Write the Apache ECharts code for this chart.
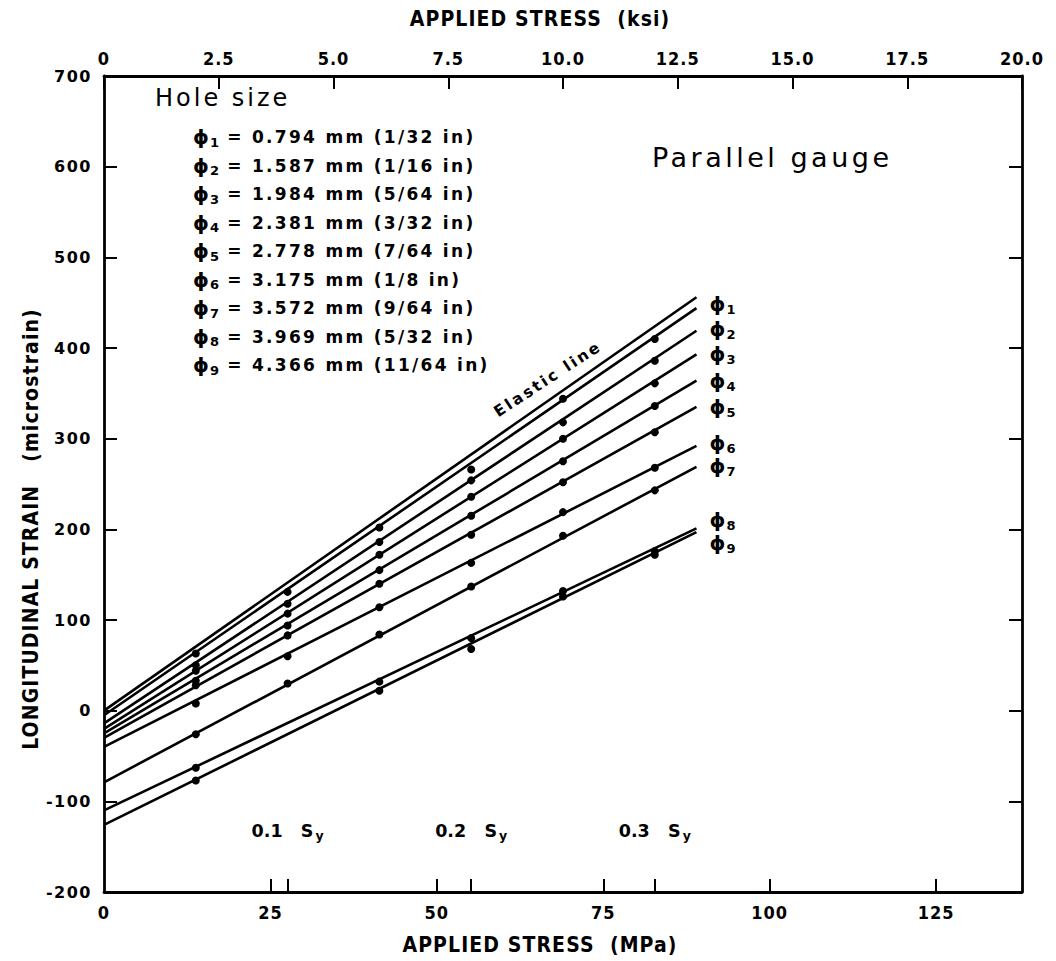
<!DOCTYPE html>
<html>
<head>
<meta charset="utf-8">
<script src="https://cdn.jsdelivr.net/npm/echarts@6/dist/echarts.min.js"></script>
<style>
  html, body { margin: 0; padding: 0; background: #ffffff; }
  #chart { width: 1056px; height: 961px; }
  /* lettering is drawn with wide spacing; keyed on the font size used for each text group */
  #chart text[style*="16px"] { letter-spacing: 1.5px; }
  #chart text[style*="18px"] { letter-spacing: 1px; }
  #chart text[style*="17px"] { letter-spacing: 2.3px; }
  #chart text[style*="24px"] { letter-spacing: 3px; }
  #chart text[style*="27px"] { letter-spacing: 3.5px; }
  #chart text[style*="21px"] { letter-spacing: 1.1px; }
  #chart text[style*="15.5px"] { letter-spacing: 2.5px; }
</style>
</head>
<body>
<div id="chart"></div>
<script>
// Applied stress levels (MPa) at which strains were read: 2, 4, ... 12 ksi
const stressLevels = [13.79, 27.58, 41.37, 55.16, 68.95, 82.74];

// Hole sizes for the nine gauges
const gaugeIds = ['1', '2', '3', '4', '5', '6', '7', '8', '9'];
const holeMm = ['0.794', '1.587', '1.984', '2.381', '2.778', '3.175', '3.572', '3.969', '4.366'];
const holeIn = ['1/32', '1/16', '5/64', '3/32', '7/64', '1/8', '9/64', '5/32', '11/64'];

// Measured longitudinal strain (microstrain) at each stress level (null = no reading)
const strainPhi1 = [63, 131, 202, 266, 344, 410];
const strainPhi2 = [50, 118, 186, 254, 318, 386];
const strainPhi3 = [44, 107, 172, 236, 300, 361];
const strainPhi4 = [33, 94, 155, 215, 275, 336];
const strainPhi5 = [28, 83, 140, 194, 252, 307];
const strainPhi6 = [8, 60, 114, 163, 219, 268];
const strainPhi7 = [-26, 30, 84, 137, 193, 243];
const strainPhi8 = [-63, null, 32, 80, 132, 176];
const strainPhi9 = [-77, null, 22, 68, 126, 172];

// Straight-line fits: strain at 0 MPa and at the end stress
const fitEndStress = 89;
const fitStrainStart = [-5, -14, -20, -25, -30, -40, -79, -110, -126];
const fitStrainEnd = [444, 419, 393, 364, 335, 292, 269, 201, 197];

// Elastic line: strain at 0 MPa and at the end stress
const elasticStrain = [0, 456];

// Yield-fraction markers on the MPa axis (Sy = 275.8 MPa)
const yieldFractions = ['0.1', '0.2', '0.3'];
const yieldMarkStress = [27.58, 55.16, 82.74];

// Axis ranges
const mpaMax = 137.9;
const ksiMax = 20;
const strainMin = -200;
const strainMax = 700;

const measured = [strainPhi1, strainPhi2, strainPhi3, strainPhi4, strainPhi5,
                  strainPhi6, strainPhi7, strainPhi8, strainPhi9];

const INK = '#000000';
const WIDE = '"DejaVu Sans", "Noto Sans", sans-serif';
const NARROW = '"DejaVu Sans Condensed", "Liberation Sans Narrow", "DejaVu Sans", sans-serif';

// vertical nudges for the end-of-line gauge tags
const tagNudge = [-4, -2, 0, 0, 0, -3, -1, -8, 11];

const phiRich = {
  p: { fontFamily: WIDE, fontSize: 20, fontWeight: 'bold', color: INK },
  s: { fontFamily: WIDE, fontSize: 13, fontWeight: 'bold', color: INK, padding: [11, 0, 0, 1] }
};

const series = [];

series.push({
  name: 'Elastic line',
  type: 'line',
  xAxisIndex: 0, yAxisIndex: 0,
  data: [[0, elasticStrain[0]], [fitEndStress, elasticStrain[1]]],
  symbol: 'none',
  lineStyle: { color: INK, width: 2.6 },
  silent: true, animation: false
});

gaugeIds.forEach((id, i) => {
  series.push({
    name: 'fit ϕ' + id,
    type: 'line',
    xAxisIndex: 0, yAxisIndex: 0,
    data: [[0, fitStrainStart[i]], [fitEndStress, fitStrainEnd[i]]],
    symbol: 'none',
    lineStyle: { color: INK, width: 2.6 },
    endLabel: {
      show: true,
      distance: 13,
      offset: [0, tagNudge[i]],
      formatter: '{p|ϕ}{s|' + id + '}',
      rich: phiRich
    },
    silent: true, animation: false
  });
  series.push({
    name: 'ϕ' + id,
    type: 'scatter',
    xAxisIndex: 0, yAxisIndex: 0,
    data: stressLevels
      .map((s, k) => [s, measured[i][k]])
      .filter(p => p[1] !== null),
    symbol: 'circle',
    symbolSize: 8,
    itemStyle: { color: INK, opacity: 1 },
    silent: true, animation: false
  });
});

// Hole-size list
const listChildren = [{
  type: 'text',
  left: 0, top: 0,
  style: { text: 'Hole size', font: '24px ' + WIDE, fill: INK }
}];
gaugeIds.forEach((id, i) => {
  listChildren.push({
    type: 'text',
    left: 38, top: 41 + i * 28.5,
    style: {
      text: '{p|ϕ}{s|' + id + '}{t| = ' + holeMm[i] + ' mm (' + holeIn[i] + ' in)}',
      rich: {
        p: { fontFamily: WIDE, fontSize: 20, fontWeight: 'bold', fill: INK },
        s: { fontFamily: WIDE, fontSize: 13, fontWeight: 'bold', fill: INK, padding: [10, 0, 0, 1] },
        t: { fontFamily: WIDE, fontSize: 17, fontWeight: 'bold', fill: INK }
      }
    }
  });
});

const axisLineStyle = { color: INK, width: 2.8 };
const tickStyle = { color: INK, width: 2 };
const titleStyle = { fontFamily: NARROW, fontSize: 21, fontWeight: 'bold', color: INK };

const option = {
  backgroundColor: '#ffffff',
  animation: false,
  grid: { left: 104, right: 34, top: 76, bottom: 69, containLabel: false },
  xAxis: [
    {
      type: 'value', position: 'bottom',
      min: 0, max: mpaMax, interval: 25,
      name: 'APPLIED STRESS  (MPa)',
      nameLocation: 'middle', nameGap: 42,
      nameTextStyle: Object.assign({ padding: [0, 46, 0, 0] }, titleStyle),
      axisLine: { show: true, onZero: false, lineStyle: axisLineStyle },
      axisTick: { show: true, inside: true, length: 13, lineStyle: tickStyle,
                  customValues: [25, yieldMarkStress[0], 50, yieldMarkStress[1], 75, yieldMarkStress[2], 100, 125] },
      axisLabel: { show: true, margin: 11, fontFamily: NARROW, fontWeight: 'bold', fontSize: 18, color: INK,
                   customValues: [0, 25, 50, 75, 100, 125] },
      splitLine: { show: false }
    },
    {
      type: 'value', position: 'top',
      min: 0, max: ksiMax, interval: 2.5,
      name: 'APPLIED STRESS  (ksi)',
      nameLocation: 'middle', nameGap: 47,
      nameTextStyle: Object.assign({ padding: [0, 46, 0, 0] }, titleStyle),
      axisLine: { show: true, onZero: false, lineStyle: axisLineStyle },
      axisTick: { show: true, inside: true, length: 13, lineStyle: tickStyle },
      axisLabel: { show: true, margin: 9, fontFamily: NARROW, fontWeight: 'bold', fontSize: 18, color: INK,
                   formatter: v => (v === 0 ? '0' : v.toFixed(1)) },
      splitLine: { show: false }
    },
    {
      // yield-fraction labels sitting just above the MPa axis
      type: 'value', position: 'bottom',
      min: 0, max: mpaMax,
      axisLine: { show: false, onZero: false },
      axisTick: { show: false },
      axisLabel: {
        show: true, inside: true, margin: 50,
        customValues: yieldMarkStress,
        formatter: v => '{n|' + yieldFractions[yieldMarkStress.indexOf(v)] + '   S}{s|y}',
        rich: {
          n: { fontFamily: WIDE, fontWeight: 'bold', fontSize: 17.5, color: INK },
          s: { fontFamily: WIDE, fontWeight: 'bold', fontSize: 12.5, color: INK, padding: [9, 0, 0, 2] }
        }
      },
      splitLine: { show: false }
    }
  ],
  yAxis: [
    {
      type: 'value', position: 'left',
      min: strainMin, max: strainMax, interval: 100,
      name: 'LONGITUDINAL STRAIN   (microstrain)',
      nameLocation: 'middle', nameGap: 56,
      nameTextStyle: Object.assign({ padding: [0, 90, 0, 0] }, titleStyle),
      axisLine: { show: true, onZero: false, lineStyle: axisLineStyle },
      axisTick: { show: true, inside: true, length: 13, lineStyle: tickStyle },
      axisLabel: { show: true, margin: 12, fontFamily: WIDE, fontWeight: 'bold', fontSize: 16, color: INK },
      splitLine: { show: false }
    },
    {
      type: 'value', position: 'right',
      min: strainMin, max: strainMax, interval: 100,
      axisLine: { show: true, onZero: false, lineStyle: axisLineStyle },
      axisTick: { show: true, inside: true, length: 13, lineStyle: tickStyle },
      axisLabel: { show: false },
      splitLine: { show: false }
    }
  ],
  graphic: [
    { type: 'group', left: 155, top: 86, children: listChildren },
    {
      type: 'text', left: 652, top: 144,
      style: { text: 'Parallel gauge', font: '27px ' + WIDE, fill: INK }
    },
    {
      type: 'text', x: 500, y: 420, rotation: 0.58,
      style: { text: 'Elastic line', font: 'bold 15.5px ' + WIDE, fill: INK, textVerticalAlign: 'bottom' }
    }
  ],
  series: series
};

const chart = echarts.init(document.getElementById('chart'), null, { renderer: 'svg' });
chart.setOption(option);
</script>
</body>
</html>
